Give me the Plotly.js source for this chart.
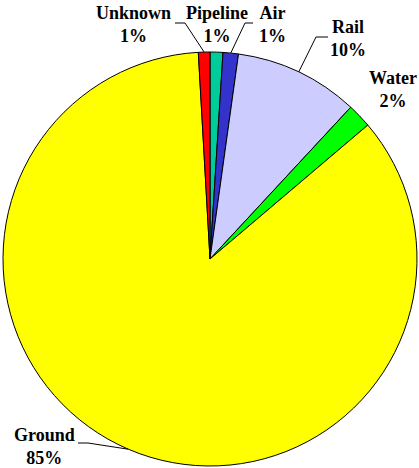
<!DOCTYPE html>
<html>
<head>
<meta charset="utf-8">
<script src="https://cdn.plot.ly/plotly-3.0.1.min.js"></script>
<style>html,body{margin:0;padding:0;background:#fff;}#chart{width:419px;height:468px;}</style>
</head>
<body>
<div id="chart"></div>
<script>
// Data (clockwise from 12 o'clock)
const categories = ["Pipeline", "Air", "Rail", "Water", "Ground", "Unknown"];
const shares = [1.0, 1.2, 9.7, 1.9, 85.3, 0.9];
const sliceColors = ["#00CC99", "#3333CC", "#CCCCFF", "#00FF00", "#FFFF00", "#FF0000"];

// Label placement (pixel centres) and leader-line start/elbow (null = no leader)
const W = 419, H = 468;
const labelPos = {
  Pipeline: {x: 217, y: 24, lead: null},
  Air: {x: 272, y: 24, lead: [[253, 23], [245, 23]]},
  Rail: {x: 348, y: 38, lead: [[328, 37], [316, 37]]},
  Water: {x: 393, y: 89, lead: null},
  Ground: {x: 44, y: 446, lead: [[78, 443], [88, 443]]},
  Unknown: {x: 133, y: 24, lead: [[175, 23], [185, 23]]}
};

const cx = 210, cy = 259, R = 207;
const px = x => x / W, py = y => 1 - y / H;

const total = shares.reduce((a, b) => a + b, 0);
const annotations = [];
const shapes = [];
let cum = 0;
categories.forEach((c, i) => {
  const frac = shares[i] / total;
  const mid = (cum + frac / 2) * 2 * Math.PI;
  cum += frac;
  const lp = labelPos[c];
  annotations.push({
    x: px(lp.x), y: py(lp.y), xref: 'paper', yref: 'paper',
    xanchor: 'center', yanchor: 'middle', showarrow: false,
    text: '<b>' + c + '<br>' + Math.round(frac * 100) + '%</b>',
    font: {family: 'Liberation Serif, Times New Roman, serif', size: 18, color: '#000'},
    align: 'center'
  });
  if (lp.lead) {
    const ex = cx + R * Math.sin(mid), ey = cy - R * Math.cos(mid);
    const pts = [lp.lead[0], lp.lead[1], [ex, ey]];
    shapes.push({
      type: 'path', xref: 'paper', yref: 'paper',
      path: 'M ' + pts.map(p => px(p[0]) + ',' + py(p[1])).join(' L '),
      line: {color: '#000', width: 1}
    });
  }
});

const trace = {
  type: 'pie',
  labels: categories,
  values: shares,
  sort: false,
  direction: 'clockwise',
  rotation: 0,
  textinfo: 'none',
  hoverinfo: 'none',
  showlegend: false,
  marker: {colors: sliceColors, line: {color: '#000', width: 1}},
  domain: {x: [px(cx - R), px(cx + R)], y: [py(cy + R), py(cy - R)]}
};

Plotly.newPlot('chart', [trace], {
  width: W, height: H,
  margin: {l: 0, r: 0, t: 0, b: 0},
  paper_bgcolor: '#fff',
  annotations: annotations,
  shapes: shapes
}, {staticPlot: true});
</script>
</body>
</html>
